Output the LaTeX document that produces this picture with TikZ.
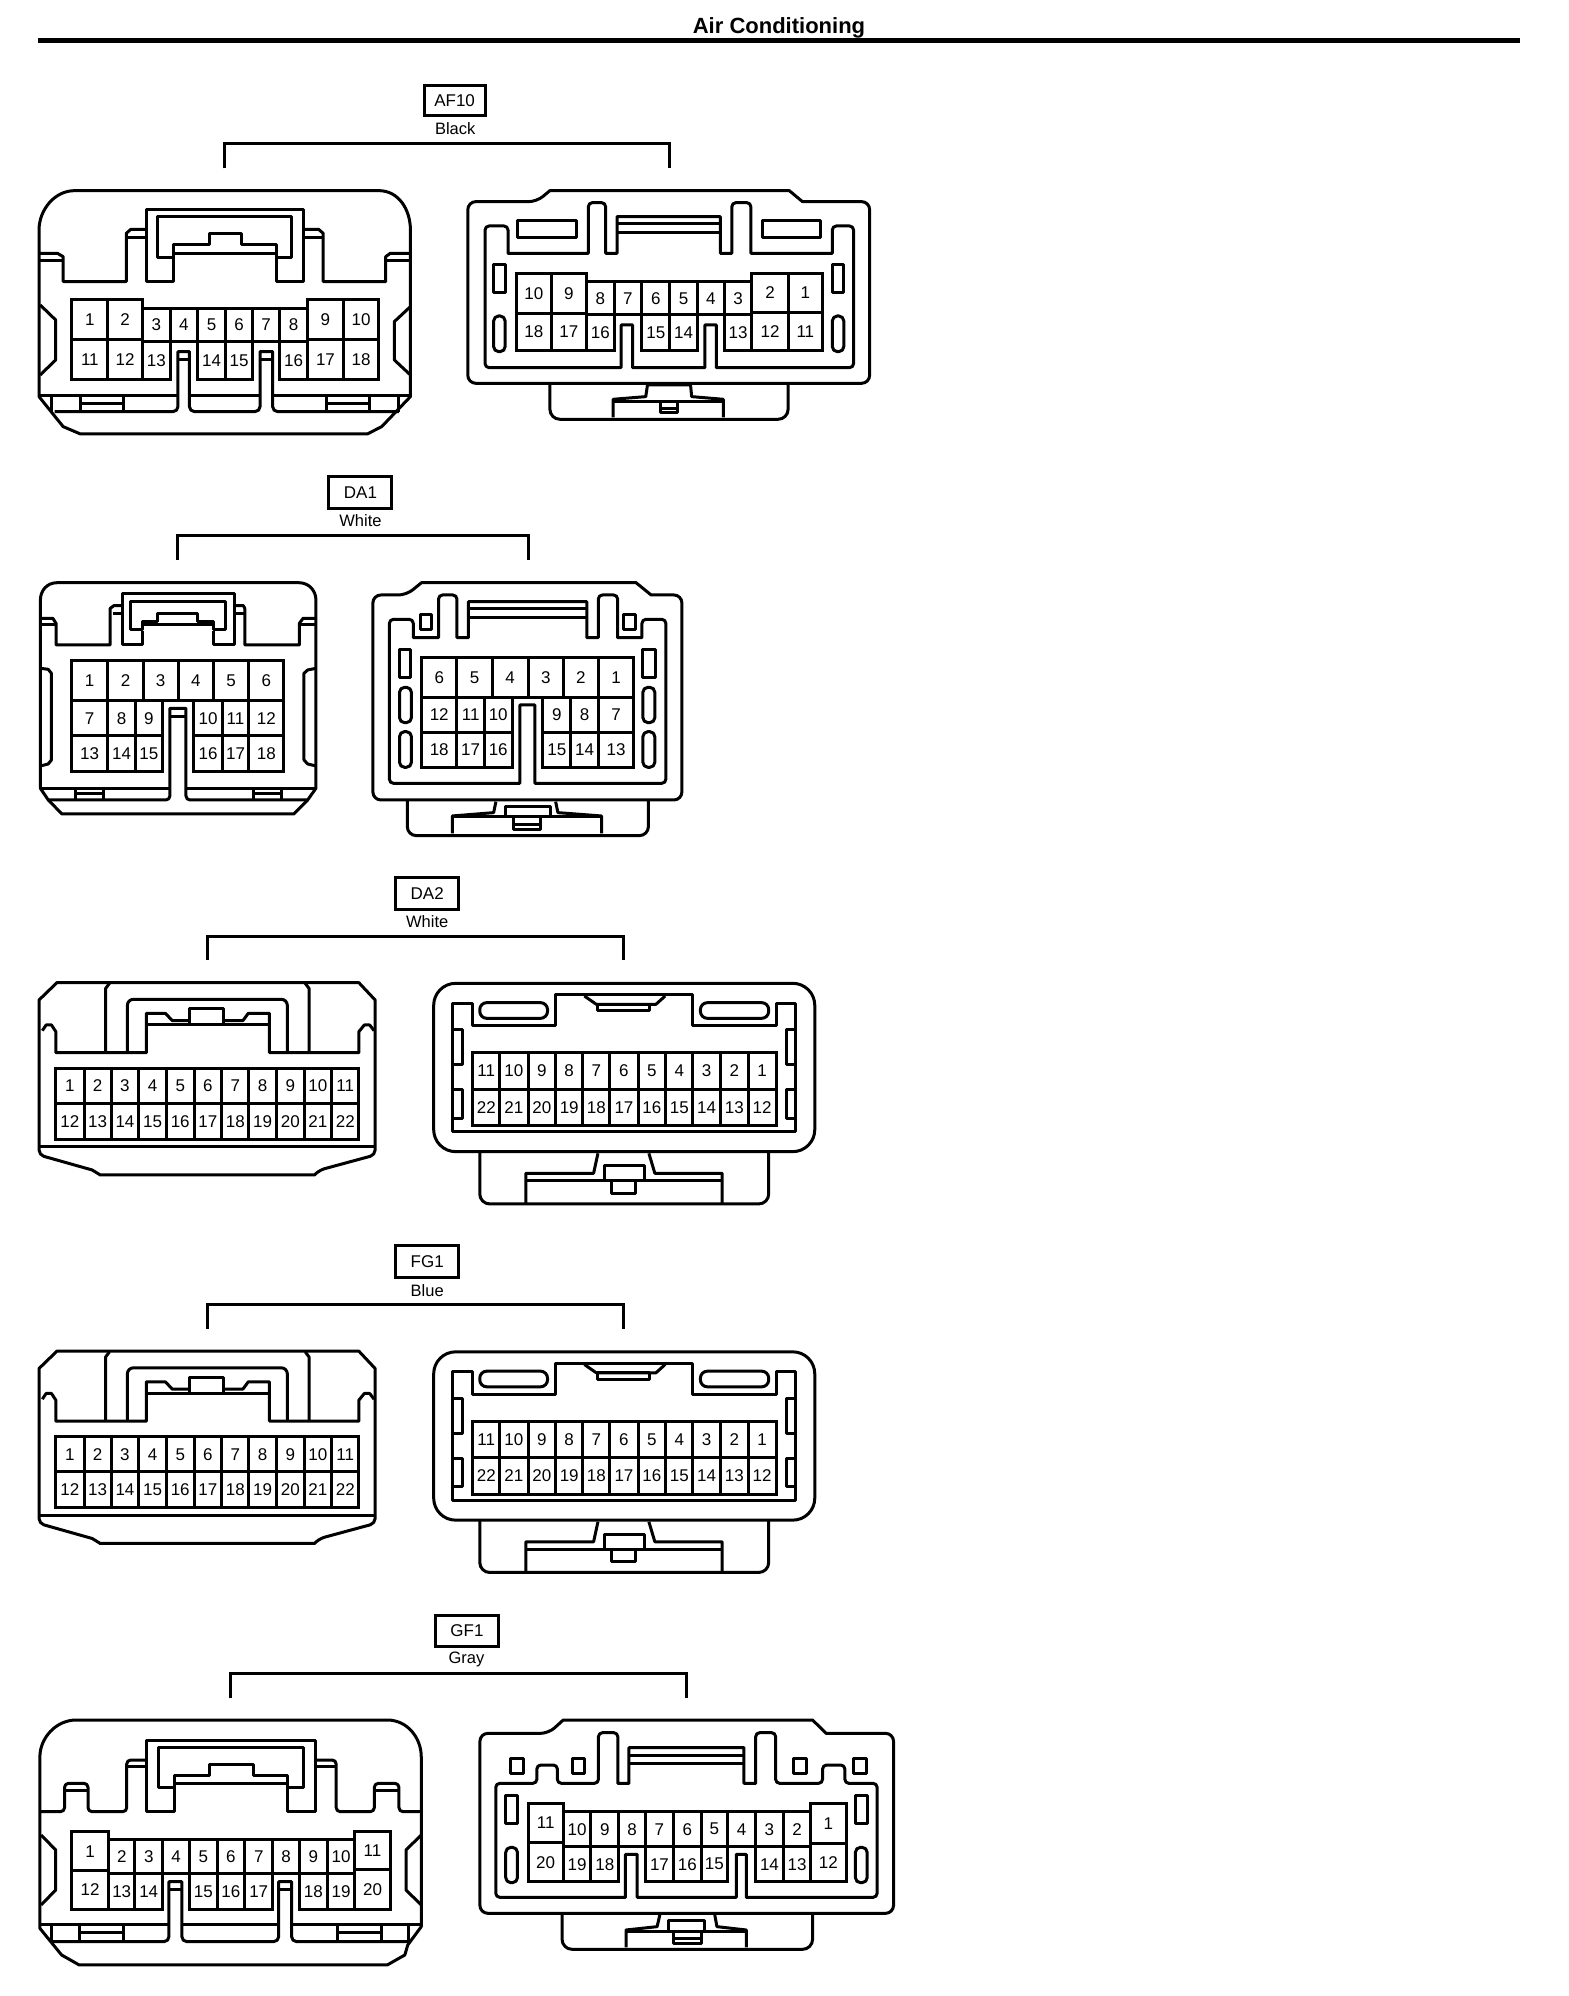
\documentclass[tikz,border=0pt]{standalone}
\usepackage{fontspec}
\setmainfont{Liberation Sans}
\tikzstyle{shell} = [line width=3pt, line join=round]
\tikzstyle{pinbox} = [line width=3pt]
\tikzstyle{pinlabel} = [font=\fontsize{17}{20}\selectfont, inner sep=0pt]
\tikzstyle{tagbox} = [rectangle, draw=black, line width=3pt, font=\fontsize{17}{20}\selectfont, inner sep=0pt]
\tikzstyle{taglabel} = [font=\fontsize{16.5}{20}\selectfont, inner sep=0pt]
\tikzstyle{bracket} = [line width=3pt]
% cells of a connector: label/left/top/right/bottom
\newcommand{\pins}[2]{%
\foreach \n/\xa/\ya/\xb/\yb in {#2} {
  \draw [pinbox] (\xa,\ya) rectangle (\xb,\yb);
  \node [pinlabel] (#1\n) at ({(\xa+\xb)/2},{(\ya+\yb)/2}) {\n};
}}
% the pair of 22 pin connectors
\newcommand{\pairtwotwo}[3]{%
\node [tagbox, minimum width=63pt, minimum height=32pt] (#1tag) at (788,100) {#2};
\node [taglabel] (#1col) at (788,185) {#3};
\coordinate (#1l) at (383,300);
\coordinate (#1r) at (1150,300);
\coordinate (#1top) at (788,228);
\draw [bracket] (#1l) |- (#1top) -| (#1r);
% left half
\draw [shell] (72,420) -- (105,368) -- (662,368) -- (692,420) -- (692,865) [rounded corners=5pt] -- (692,885) -- (590,930) [sharp corners] -- (580,945) -- (185,945) -- (170,930) [rounded corners=5pt] -- (72,885) [sharp corners] -- (72,865) -- cycle;
\draw [shell] (72,860) -- (692,860);
\draw [shell] (78,512) -- (85,495) -- (95,495) -- (103,515) -- (103,578) -- (270,578) -- (270,460) -- (305,460) -- (318,482) -- (350,482);
\draw [shell] (412,482) -- (448,482) -- (458,460) -- (497,460) -- (497,578) -- (662,578) -- (662,515) -- (672,495) -- (682,495) -- (690,512);
\draw [shell] (350,447) rectangle (412,495);
\draw [shell] (270,495) -- (497,495);
\draw [shell] (195,578) -- (195,385) -- (202,370);
\draw [shell] (570,578) -- (570,385) -- (563,370);
\draw [shell, rounded corners=6pt] (235,578) -- (235,418) -- (530,418) -- (530,578);
\pins{#1a}{1/103/625/155/730,2/155/625/205/730,3/205/625/256/730,4/256/625/307/730,5/307/625/358/730,6/358/625/409/730,7/409/625/459/730,8/459/625/510/730,9/510/625/561/730,10/561/625/612/730,11/612/625/662/730,
12/103/730/155/838,13/155/730/205/838,14/205/730/256/838,15/256/730/307/838,16/307/730/358/838,17/358/730/409/838,18/409/730/459/838,19/459/730/510/838,20/510/730/561/838,21/561/730/612/838,22/612/730/662/838}
% right half
\draw [shell, rounded corners=22pt] (800,370) rectangle (1503,875);
\draw [shell] (835,815) -- (835,430) -- (872,430) -- (872,498) -- (1025,498) -- (1025,405) -- (1278,405) -- (1278,498) -- (1432,498) -- (1432,430) -- (1468,430) -- (1468,815) -- cycle;
\draw [shell, rounded corners=7pt] (885,428) rectangle (1010,475);
\draw [shell, rounded corners=7pt] (1292,428) rectangle (1418,475);
\draw [shell] (1078,408) -- (1100,433) -- (1210,433) -- (1227,408);
\draw [shell] (1102,433) rectangle (1198,452);
\foreach \sx in {835,1450} {
  \draw [shell] (\sx,510) rectangle ++(18,105);
  \draw [shell] (\sx,690) rectangle ++(18,85);
}
\draw [shell, rounded corners=10pt] (885,875) -- (885,1032) -- (1418,1032) -- (1418,875);
\draw [shell] (970,1030) -- (970,940) -- (1095,940) -- (1103,880);
\draw [shell] (1197,880) -- (1208,940) -- (1332,940) -- (1332,1030);
\draw [shell] (970,962) -- (1332,962);
\draw [shell] (1115,918) rectangle (1188,962);
\draw [shell] (1128,962) rectangle (1172,1000);
\pins{#1b}{11/872/578/922/688,10/922/578/974/688,9/974/578/1025/688,8/1025/578/1075/688,7/1075/578/1125/688,6/1125/578/1177/688,5/1177/578/1228/688,4/1228/578/1278/688,3/1278/578/1329/688,2/1329/578/1380/688,1/1380/578/1432/688,
22/872/688/922/797,21/922/688/974/797,20/974/688/1025/797,19/1025/688/1075/797,18/1075/688/1125/797,17/1125/688/1177/797,16/1177/688/1228/797,15/1228/688/1278/797,14/1278/688/1329/797,13/1329/688/1380/797,12/1380/688/1432/797}
}
\begin{document}
\begin{tikzpicture}

\useasboundingbox (0,0) rectangle (1568pt,-1996pt);

\node [font=\bfseries\fontsize{22}{24}\selectfont, inner sep=0pt] (title) at (779pt,-28pt) {Air Conditioning};
\coordinate (rulel) at (38pt,-40.5pt);
\coordinate (ruler) at (1520pt,-40.5pt);
\draw [line width=5pt] (rulel) -- (ruler);

% AF10
\begin{scope}[x=0.574pt, y=-0.3333pt]
\node [tagbox, minimum width=61pt, minimum height=30pt] (aftag) at (792,302) {AF10};
\node [taglabel] (afcol) at (793,385) {Black};
\coordinate (afl) at (391,505);
\coordinate (afr) at (1166,505);
\coordinate (aftop) at (793,430);
\draw [bracket] (afl) |- (aftop) -| (afr);
% left half
\draw [shell] (130,572) -- (660,572) .. controls (695,572) and (715,630) .. (715,690) -- (715,1190) -- (665,1280) -- (640,1302) -- (140,1302) -- (110,1280) -- (68,1190) -- (68,690) .. controls (68,630) and (95,572) .. (130,572) -- cycle;
\draw [shell] (70,760) -- (100,760) -- (110,770) -- (110,845) -- (220,845) -- (220,700) -- (228,688) -- (254,688);
\draw [shell] (530,688) -- (555,688) -- (563,700) -- (563,845) -- (672,845) -- (672,770) -- (680,760) -- (715,760);
\draw [shell] (70,782) -- (110,782);
\draw [shell] (672,782) -- (715,782);
\draw [shell] (220,712) -- (254,712);
\draw [shell] (530,712) -- (563,712);
\draw [shell] (302,772) -- (302,845) -- (256,845) -- (256,630) -- (528,630) -- (528,845) -- (482,845) -- (482,772);
\draw [shell] (275,650) -- (508,650) -- (508,772) -- (482,772) -- (482,735) -- (420,735) -- (420,700) -- (365,700) -- (365,735) -- (302,735) -- (302,772) -- (275,772) -- cycle;
\draw [shell] (302,762) -- (482,762);
\draw [shell] (70,915) -- (97,960) -- (97,1080) -- (70,1125);
\draw [shell] (715,920) -- (687,965) -- (687,1080) -- (715,1125);
\draw [shell] (68,1188) -- (310,1188);
\draw [shell] (330,1188) -- (453,1188);
\draw [shell] (475,1188) -- (715,1188);
\draw [shell, rounded corners=5pt] (95,1235) -- (310,1235) [sharp corners] -- (310,1055) -- (330,1055) [rounded corners=5pt] -- (330,1235) -- (453,1235) [sharp corners] -- (453,1055) -- (475,1055) [rounded corners=5pt] -- (475,1235) -- (695,1235);
\draw [shell] (310,1078) -- (330,1078);
\draw [shell] (453,1078) -- (475,1078);
\foreach \tx in {140,568} {
  \draw [shell] (\tx,1190) -- ++(0,45);
  \draw [shell] (\tx+76,1190) -- ++(0,45);
  \draw [shell] (\tx,1212) -- ++(76,0);
}
\draw [shell] (90,1190) -- (90,1235);
\draw [shell] (695,1190) -- (695,1235);
\pins{afa}{1/125/900/188/1018,2/188/900/248/1018,3/248/925/297/1025,4/297/925/344/1025,5/344/925/393/1025,6/393/925/440/1025,7/440/925/487/1025,8/487/925/536/1025,9/536/900/598/1018,10/598/900/660/1018,
11/125/1018/188/1138,12/188/1018/248/1138,13/248/1025/297/1138,14/344/1025/393/1138,15/393/1025/440/1138,16/487/1025/536/1138,17/536/1018/598/1138,18/598/1018/660/1138}
% right half
\draw [shell, rounded corners=8pt] (815,605) -- (935,605) [sharp corners] -- (958,572) -- (1375,572) -- (1398,605) [rounded corners=8pt] -- (1515,605) -- (1515,1150) -- (815,1150) -- cycle;
\draw [shell, rounded corners=4pt] (845,1103) -- (845,678) -- (885,678) [sharp corners] -- (885,760) -- (1025,760) [rounded corners=4pt] -- (1025,608) -- (1055,608) [sharp corners] -- (1055,760) -- (1075,760) -- (1075,650) -- (1255,650) -- (1255,760) -- (1275,760) [rounded corners=4pt] -- (1275,608) -- (1308,608) [sharp corners] -- (1308,760) -- (1450,760) [rounded corners=4pt] -- (1450,678) -- (1487,678) -- (1487,1103) [sharp corners] -- (1248,1103) -- (1248,975) -- (1228,975) -- (1228,1103) -- (1102,1103) -- (1102,975) -- (1082,975) -- (1082,1103) [rounded corners=4pt] -- cycle;
\draw [shell] (1075,672) -- (1255,672);
\draw [shell] (1075,698) -- (1255,698);
\draw [shell] (902,663) rectangle (1005,713);
\draw [shell] (1328,663) rectangle (1430,713);
\draw [shell] (860,795) rectangle (880,878);
\draw [shell] (1450,795) rectangle (1470,878);
\draw [shell, rounded corners=5pt] (860,948) rectangle (880,1055);
\draw [shell, rounded corners=5pt] (1450,948) rectangle (1470,1055);
\draw [shell, rounded corners=10pt] (958,1150) -- (958,1258) -- (1373,1258) -- (1373,1150);
\draw [shell] (1068,1252) -- (1068,1198) -- (1125,1190) -- (1128,1155) -- (1203,1155) -- (1205,1190) -- (1260,1198) -- (1260,1252);
\draw [shell] (1068,1205) -- (1260,1205);
\draw [shell] (1150,1205) -- (1150,1238) -- (1180,1238) -- (1180,1205);
\draw [shell] (1150,1225) -- (1180,1225);
\pins{afb}{10/900/820/960/940,9/960/820/1022/940,8/1022/845/1070/945,7/1070/845/1118/945,6/1118/845/1167/945,5/1167/845/1215/945,4/1215/845/1262/945,3/1262/845/1310/945,2/1310/820/1373/938,1/1373/820/1433/938,
18/900/940/960/1052,17/960/940/1022/1052,16/1022/945/1070/1052,15/1118/945/1167/1052,14/1167/945/1215/1052,13/1262/945/1310/1052,12/1310/938/1373/1052,11/1373/938/1433/1052}
\end{scope}

% DA1
\begin{scope}[x=0.4592pt, y=-0.3333pt, yshift=-460pt]
\node [tagbox, minimum width=63pt, minimum height=32pt] (datag) at (785,98) {DA1};
\node [taglabel] (dacol) at (785,183) {White};
\coordinate (dal) at (386,300);
\coordinate (dar) at (1150,300);
\coordinate (datop) at (768,226);
\draw [bracket] (dal) |- (datop) -| (dar);
% left half
\draw [shell] (125,368) -- (650,368) .. controls (675,368) and (688,395) .. (688,420) -- (688,985) -- (670,1020) -- (640,1062) -- (135,1062) -- (105,1020) -- (88,985) -- (88,420) .. controls (88,395) and (100,368) .. (125,368) -- cycle;
\draw [shell] (90,475) -- (115,475) -- (122,490) -- (122,555) -- (240,555) -- (240,445) -- (248,437) -- (265,437);
\draw [shell] (510,437) -- (530,437) -- (533,445) -- (533,555) -- (652,555) -- (652,490) -- (660,475) -- (688,475);
\draw [shell] (90,495) -- (122,495);
\draw [shell] (652,495) -- (688,495);
\draw [shell] (245,460) -- (265,460);
\draw [shell] (512,460) -- (533,460);
\draw [shell] (310,512) -- (310,555) -- (267,555) -- (267,402) -- (510,402) -- (510,555) -- (465,555) -- (465,512);
\draw [shell] (284,425) -- (492,425) -- (492,510) -- (465,510) -- (465,485) -- (430,485) -- (430,462) -- (342,462) -- (342,485) -- (310,485) -- (310,510) -- (284,510) -- cycle;
\draw [shell] (310,495) -- (465,495);
\draw [shell] (88,625) -- (105,628) -- (112,640) -- (112,900) -- (105,912) -- (88,918);
\draw [shell] (688,625) -- (670,630) -- (662,640) -- (662,900) -- (670,912) -- (688,918);
\draw [shell] (88,985) -- (370,985);
\draw [shell] (405,985) -- (688,985);
\draw [shell, rounded corners=4pt] (105,1020) -- (370,1020) [sharp corners] -- (370,745) -- (405,745) [rounded corners=4pt] -- (405,1020) -- (670,1020);
\draw [shell] (370,770) -- (405,770);
\foreach \tx in {165,552} {
  \draw [shell] (\tx,985) -- ++(0,33);
  \draw [shell] (\tx+60,985) -- ++(0,33);
  \draw [shell] (\tx,1002) -- ++(60,0);
}
\pins{daa}{1/155/603/235/722,2/235/603/312/722,3/312/603/388/722,4/388/603/465/722,5/465/603/542/722,6/542/603/618/722,
7/155/722/235/828,8/235/722/295/828,9/295/722/353/828,10/422/722/484/828,11/484/722/542/828,12/542/722/618/828,
13/155/828/235/935,14/235/828/295/935,15/295/828/353/935,16/422/828/484/935,17/484/828/542/935,18/542/828/618/935}
% right half
\draw [shell, rounded corners=8pt] (812,405) -- (885,405) [sharp corners] -- (918,368) -- (1385,368) -- (1418,405) [rounded corners=8pt] -- (1485,405) -- (1485,1020) -- (812,1020) -- cycle;
\draw [shell, rounded corners=4pt] (848,970) -- (848,478) -- (900,478) [sharp corners] -- (900,533) -- (955,533) [rounded corners=4pt] -- (955,405) -- (995,405) [sharp corners] -- (995,533) -- (1020,533) -- (1020,425) -- (1278,425) -- (1278,533) -- (1303,533) [rounded corners=4pt] -- (1303,405) -- (1345,405) [sharp corners] -- (1345,533) -- (1398,533) [rounded corners=4pt] -- (1398,478) -- (1450,478) -- (1450,970) [sharp corners] -- (1165,970) -- (1165,735) -- (1132,735) -- (1132,970) [rounded corners=4pt] -- cycle;
\draw [shell] (1020,447) -- (1278,447);
\draw [shell] (1020,473) -- (1278,473);
\draw [shell] (915,465) rectangle (940,510);
\draw [shell] (1358,465) rectangle (1383,510);
\draw [shell] (870,568) rectangle (895,652);
\draw [shell] (1400,568) rectangle (1428,652);
\foreach \ox in {870,1400} {
  \draw [shell, rounded corners=5pt] (\ox,682) rectangle ++(26,106);
  \draw [shell, rounded corners=5pt] (\ox,815) rectangle ++(26,107);
}
\draw [shell, rounded corners=9pt] (887,1020) -- (887,1127) -- (1412,1127) -- (1412,1020);
\draw [shell] (985,1120) -- (985,1068) -- (1075,1058) -- (1080,1025);
\draw [shell] (1210,1025) -- (1215,1058) -- (1310,1068) -- (1310,1120);
\draw [shell] (985,1070) -- (1310,1070);
\draw [shell] (1100,1040) rectangle (1198,1070);
\draw [shell] (1118,1075) -- (1118,1108) -- (1178,1108) -- (1178,1075);
\draw [shell] (1118,1095) -- (1178,1095);
\pins{dab}{6/918/592/995/712,5/995/592/1072/712,4/1072/592/1150/712,3/1150/592/1227/712,2/1227/592/1303/712,1/1303/592/1380/712,
12/918/712/995/818,11/995/712/1055/818,10/1055/712/1115/818,9/1182/712/1243/818,8/1243/712/1303/818,7/1303/712/1380/818,
18/918/818/995/922,17/995/818/1055/922,16/1055/818/1115/922,15/1182/818/1243/922,14/1243/818/1303/922,13/1303/818/1380/922}
\end{scope}

% DA2
\begin{scope}[x=0.5421pt, y=-0.3333pt, yshift=-860pt]
\pairtwotwo{dt}{DA2}{White}
\end{scope}

% FG1
\begin{scope}[x=0.5421pt, y=-0.3333pt, yshift=-1228.5pt]
\pairtwotwo{fg}{FG1}{Blue}
\end{scope}

% GF1
\begin{scope}[x=0.5867pt, y=-0.3333pt, yshift=-1610pt]
\node [tagbox, minimum width=63pt, minimum height=31pt] (gftag) at (796,62) {GF1};
\node [taglabel] (gfcol) at (795,148) {Gray};
\coordinate (gfl) at (393,265);
\coordinate (gfr) at (1170,265);
\coordinate (gftop) at (780,190);
\draw [bracket] (gfl) |- (gftop) -| (gfr);
% left half
\draw [shell] (130,330) -- (660,330) .. controls (695,330) and (718,385) .. (718,440) -- (718,950) -- (695,1005) -- (690,1035) -- (660,1065) -- (135,1065) -- (105,1035) -- (68,955) -- (68,440) .. controls (68,385) and (95,330) .. (130,330) -- cycle;
\draw [shell, rounded corners=4pt] (68,605) -- (110,605) -- (110,520) -- (150,520) -- (150,605) -- (216,605) -- (216,450) -- (248,450);
\draw [shell, rounded corners=4pt] (537,450) -- (573,450) -- (573,605) -- (638,605) -- (638,520) -- (680,520) -- (680,605) -- (718,605);
\draw [shell] (110,542) -- (150,542);
\draw [shell] (638,542) -- (680,542);
\draw [shell] (218,470) -- (250,470);
\draw [shell] (537,470) -- (573,470);
\draw [shell] (297,532) -- (297,605) -- (250,605) -- (250,390) -- (537,390) -- (537,605) -- (490,605) -- (490,532);
\draw [shell] (270,413) -- (517,413) -- (517,532) -- (490,532) -- (490,495) -- (432,495) -- (432,462) -- (357,462) -- (357,495) -- (297,495) -- (297,532) -- (270,532) -- cycle;
\draw [shell] (297,520) -- (490,520);
\draw [shell] (70,675) -- (95,720) -- (95,840) -- (70,885);
\draw [shell] (718,675) -- (692,720) -- (692,840) -- (718,885);
\draw [shell] (68,945) -- (288,945);
\draw [shell] (310,945) -- (475,945);
\draw [shell] (497,945) -- (718,945);
\draw [shell, rounded corners=5pt] (90,995) -- (288,995) [sharp corners] -- (288,815) -- (310,815) [rounded corners=5pt] -- (310,995) -- (475,995) [sharp corners] -- (475,815) -- (497,815) [rounded corners=5pt] -- (497,995) -- (695,995);
\draw [shell] (288,838) -- (310,838);
\draw [shell] (475,838) -- (497,838);
\foreach \tx in {135,575} {
  \draw [shell] (\tx,945) -- ++(0,50);
  \draw [shell] (\tx+76,945) -- ++(0,50);
  \draw [shell] (\tx,968) -- ++(76,0);
}
\draw [shell] (88,945) -- (88,995);
\draw [shell] (697,945) -- (697,995);
\pins{gfa}{1/122/665/185/782,2/185/690/230/790,3/230/690/277/790,4/277/690/323/790,5/323/690/370/790,6/370/690/417/790,7/417/690/465/790,8/465/690/510/790,9/510/690/558/790,10/558/690/605/790,11/605/665/665/780,
12/122/782/185/898,13/185/790/230/898,14/230/790/277/898,15/323/790/370/898,16/370/790/417/898,17/417/790/465/898,18/510/790/558/898,19/558/790/605/898,20/605/780/665/898}
% right half
\draw [shell, rounded corners=8pt] (818,370) -- (935,370) [sharp corners] -- (960,330) -- (1385,330) -- (1408,370) [rounded corners=8pt] -- (1523,370) -- (1523,910) -- (818,910) -- cycle;
\draw [shell, rounded corners=4pt] (845,862) -- (845,520) -- (915,520) -- (915,465) -- (950,465) -- (950,520) -- (1020,520) -- (1020,368) -- (1053,368) [sharp corners] -- (1053,520) -- (1072,520) -- (1072,413) -- (1268,413) -- (1268,520) -- (1288,520) [rounded corners=4pt] -- (1288,368) -- (1322,368) -- (1322,520) -- (1402,520) -- (1402,465) -- (1440,465) -- (1440,520) -- (1495,520) -- (1495,862) [sharp corners] -- (1272,862) -- (1272,733) -- (1255,733) -- (1255,862) -- (1086,862) -- (1086,733) -- (1066,733) -- (1066,862) [rounded corners=4pt] -- cycle;
\draw [shell] (1072,437) -- (1268,437);
\draw [shell] (1072,460) -- (1268,460);
\foreach \rx in {870,975,1352,1455} {
  \draw [shell] (\rx,445) rectangle ++(22,45);
}
\draw [shell] (862,555) rectangle (882,640);
\draw [shell] (1458,555) rectangle (1478,640);
\draw [shell, rounded corners=5pt] (862,712) rectangle (882,818);
\draw [shell, rounded corners=5pt] (1458,712) rectangle (1478,818);
\draw [shell, rounded corners=10pt] (958,910) -- (958,1018) -- (1385,1018) -- (1385,910);
\draw [shell] (1067,1012) -- (1067,960) -- (1120,950) -- (1125,912);
\draw [shell] (1218,912) -- (1222,950) -- (1272,960) -- (1272,1012);
\draw [shell] (1067,965) -- (1272,965);
\draw [shell] (1140,933) rectangle (1200,965);
\draw [shell] (1148,965) -- (1148,1000) -- (1195,1000) -- (1195,965);
\draw [shell] (1148,985) -- (1195,985);
\pins{gfb}{11/900/580/960/698,10/960/605/1007/710,9/1007/605/1055/710,8/1055/605/1100/710,7/1100/605/1148/710,6/1148/605/1195/710,5/1195/605/1240/710,4/1240/605/1288/710,3/1288/605/1335/710,2/1335/605/1382/710,1/1382/580/1442/700,
20/900/698/960/815,19/960/710/1007/815,18/1007/710/1055/815,17/1100/710/1148/815,16/1148/710/1195/815,15/1195/710/1240/815,14/1288/710/1335/815,13/1335/710/1382/815,12/1382/700/1442/815}
\end{scope}

\end{tikzpicture}
\end{document}
